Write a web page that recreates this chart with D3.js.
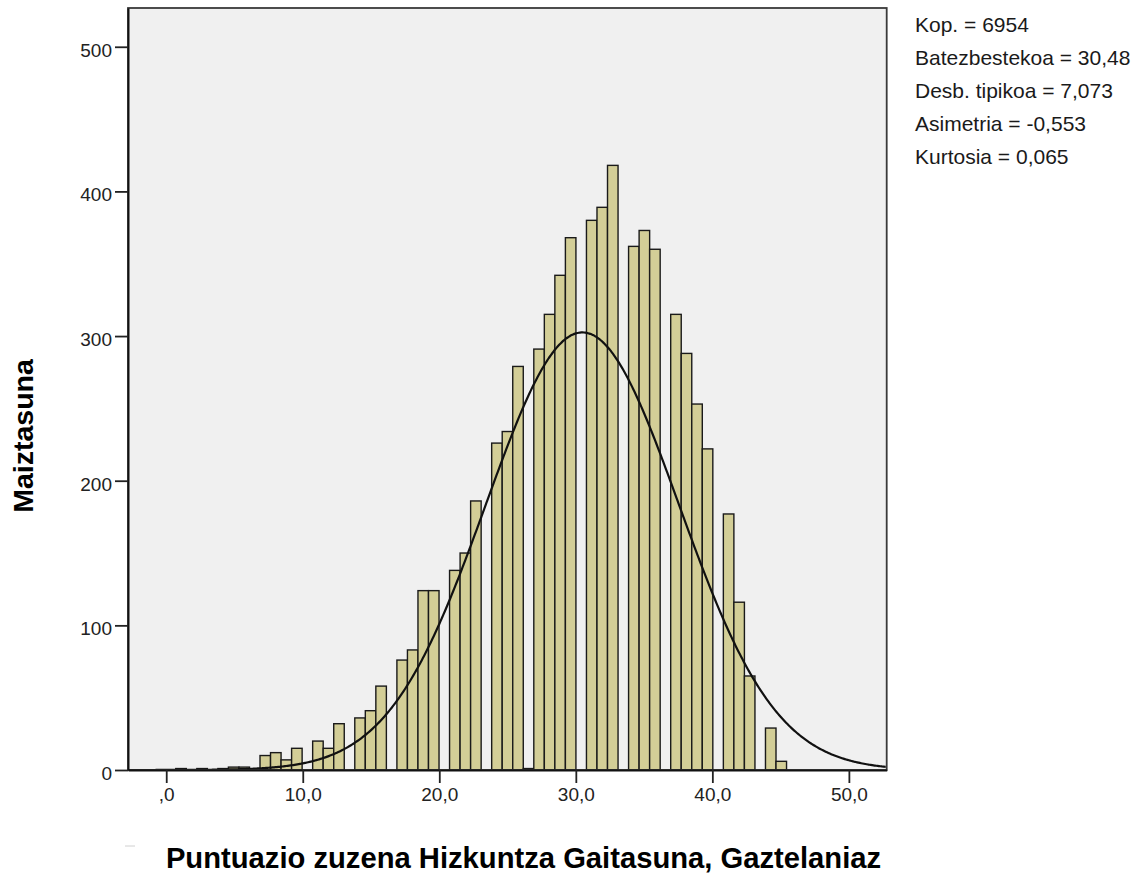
<!DOCTYPE html>
<html>
<head>
<meta charset="utf-8">
<script src="https://cdn.jsdelivr.net/npm/d3@7"></script>
<style>
  body { margin: 0; background: #fff; }
  svg { display: block; font-family: "Liberation Sans", Arial, sans-serif; }
</style>
</head>
<body>
<svg id="chart" width="1143" height="883"></svg>
<script>
// histogram counts, one per bin (bins start at binStart, each binWidth wide)
var binStart = -0.073;
var binWidth = 0.7713;
var counts = [0, 1, 0, 1, 0, 1, 2, 2, 0, 10, 12, 7, 15, 0, 20, 15, 32, 0, 36, 41,
              58, 0, 76, 83, 124, 124, 0, 138, 150, 186, 0, 226, 234, 279, 1, 291, 315, 342, 368, 0,
              380, 389, 418, 0, 362, 373, 360, 0, 315, 288, 253, 222, 0, 177, 116, 65, 0, 29, 6];

// summary stats shown at the right (used for the normal curve)
var statNames = ["Kop.", "Batezbestekoa", "Desb. tipikoa", "Asimetria", "Kurtosia"];
var statLabels = ["6954", "30,48", "7,073", "-0,553", "0,065"];
var nTotal = 6954, mean = 30.48, sd = 7.073;

var xTicks = [0, 10, 20, 30, 40, 50];
var xTickLabels = [",0", "10,0", "20,0", "30,0", "40,0", "50,0"];
var yTicks = [0, 100, 200, 300, 400, 500];

var svg = d3.select("#chart");
var pLeft = 128, pRight = 886.7, pTop = 8, pBottom = 770;

var x = d3.scaleLinear().domain([-2.8, 52.77]).range([pLeft, pRight]);
var y = d3.scaleLinear().domain([0, 526.8]).range([pBottom, pTop]);

// plot background
svg.append("rect")
  .attr("x", pLeft).attr("y", pTop)
  .attr("width", pRight - pLeft).attr("height", pBottom - pTop)
  .attr("fill", "#f0f0f0");

svg.append("clipPath").attr("id", "plotclip")
  .append("rect")
  .attr("x", pLeft).attr("y", pTop)
  .attr("width", pRight - pLeft).attr("height", pBottom - pTop);

// bars
var bins = counts.map(function(c, i) {
  return {lo: binStart + i * binWidth, hi: binStart + (i + 1) * binWidth, n: c};
}).filter(function(d) { return d.n > 0; });

svg.append("g")
  .selectAll("rect")
  .data(bins)
  .enter().append("rect")
  .attr("x", function(d) { return x(d.lo); })
  .attr("width", function(d) { return x(d.hi) - x(d.lo); })
  .attr("y", function(d) { return y(d.n); })
  .attr("height", function(d) { return pBottom - y(d.n); })
  .attr("fill", "#d3ce97")
  .attr("stroke", "#1a1a1a")
  .attr("stroke-width", 1.4);

// normal curve from the stats
var pts = d3.range(-2.8, 52.8, 0.1).map(function(v) {
  var z = (v - mean) / sd;
  return [v, nTotal * binWidth / (sd * Math.sqrt(2 * Math.PI)) * Math.exp(-0.5 * z * z)];
});
svg.append("path")
  .datum(pts)
  .attr("clip-path", "url(#plotclip)")
  .attr("fill", "none")
  .attr("stroke", "#111")
  .attr("stroke-width", 2.2)
  .attr("d", d3.line().x(function(d) { return x(d[0]); }).y(function(d) { return y(d[1]); }).curve(d3.curveBasis));

// frame
svg.append("rect")
  .attr("x", pLeft).attr("y", pTop)
  .attr("width", pRight - pLeft).attr("height", pBottom - pTop)
  .attr("fill", "none")
  .attr("stroke", "#3a3a3a")
  .attr("stroke-width", 1.8);

// axes
var yAxis = svg.append("g")
  .attr("transform", "translate(" + pLeft + ",0)")
  .call(d3.axisLeft(y).tickValues(yTicks).tickSize(13).tickSizeOuter(0).tickPadding(3));
var xAxis = svg.append("g")
  .attr("transform", "translate(0," + pBottom + ")")
  .call(d3.axisBottom(x).tickValues(xTicks).tickSize(13).tickSizeOuter(0).tickPadding(4)
    .tickFormat(function(d, i) { return xTickLabels[i]; }));

[yAxis, xAxis].forEach(function(a) {
  a.select(".domain").attr("stroke", "#111").attr("stroke-width", 2);
  a.selectAll(".tick line").attr("stroke", "#222").attr("stroke-width", 1.8);
  a.selectAll(".tick text")
    .attr("fill", "#222")
    .style("font-size", "19px")
    .style("font-family", "\"Liberation Sans\", Arial, sans-serif");
});
yAxis.selectAll(".tick text").attr("dy", "0.5em");
xAxis.selectAll(".tick text").attr("dy", "0.72em");

// stats box text
svg.append("g")
  .selectAll("text")
  .data(statNames)
  .enter().append("text")
  .attr("x", 915)
  .attr("y", function(d, i) { return 31.7 + i * 33.15; })
  .attr("fill", "#1a1a1a")
  .style("font-size", "21px")
  .text(function(d, i) { return d + " = " + statLabels[i]; });

// axis titles
svg.append("text")
  .attr("transform", "translate(33,436) rotate(-90)")
  .attr("text-anchor", "middle")
  .attr("fill", "#000")
  .style("font-size", "28.5px")
  .style("font-weight", "bold")
  .text("Maiztasuna");

svg.append("text")
  .attr("x", 523.5)
  .attr("y", 868)
  .attr("text-anchor", "middle")
  .attr("fill", "#000")
  .style("font-size", "29.2px")
  .style("font-weight", "bold")
  .text("Puntuazio zuzena Hizkuntza Gaitasuna, Gaztelaniaz");

// small stray dash left of the title
svg.append("line")
  .attr("x1", 125).attr("x2", 135).attr("y1", 846).attr("y2", 846)
  .attr("stroke", "#d0d0d0").attr("stroke-width", 1);
</script>
</body>
</html>
